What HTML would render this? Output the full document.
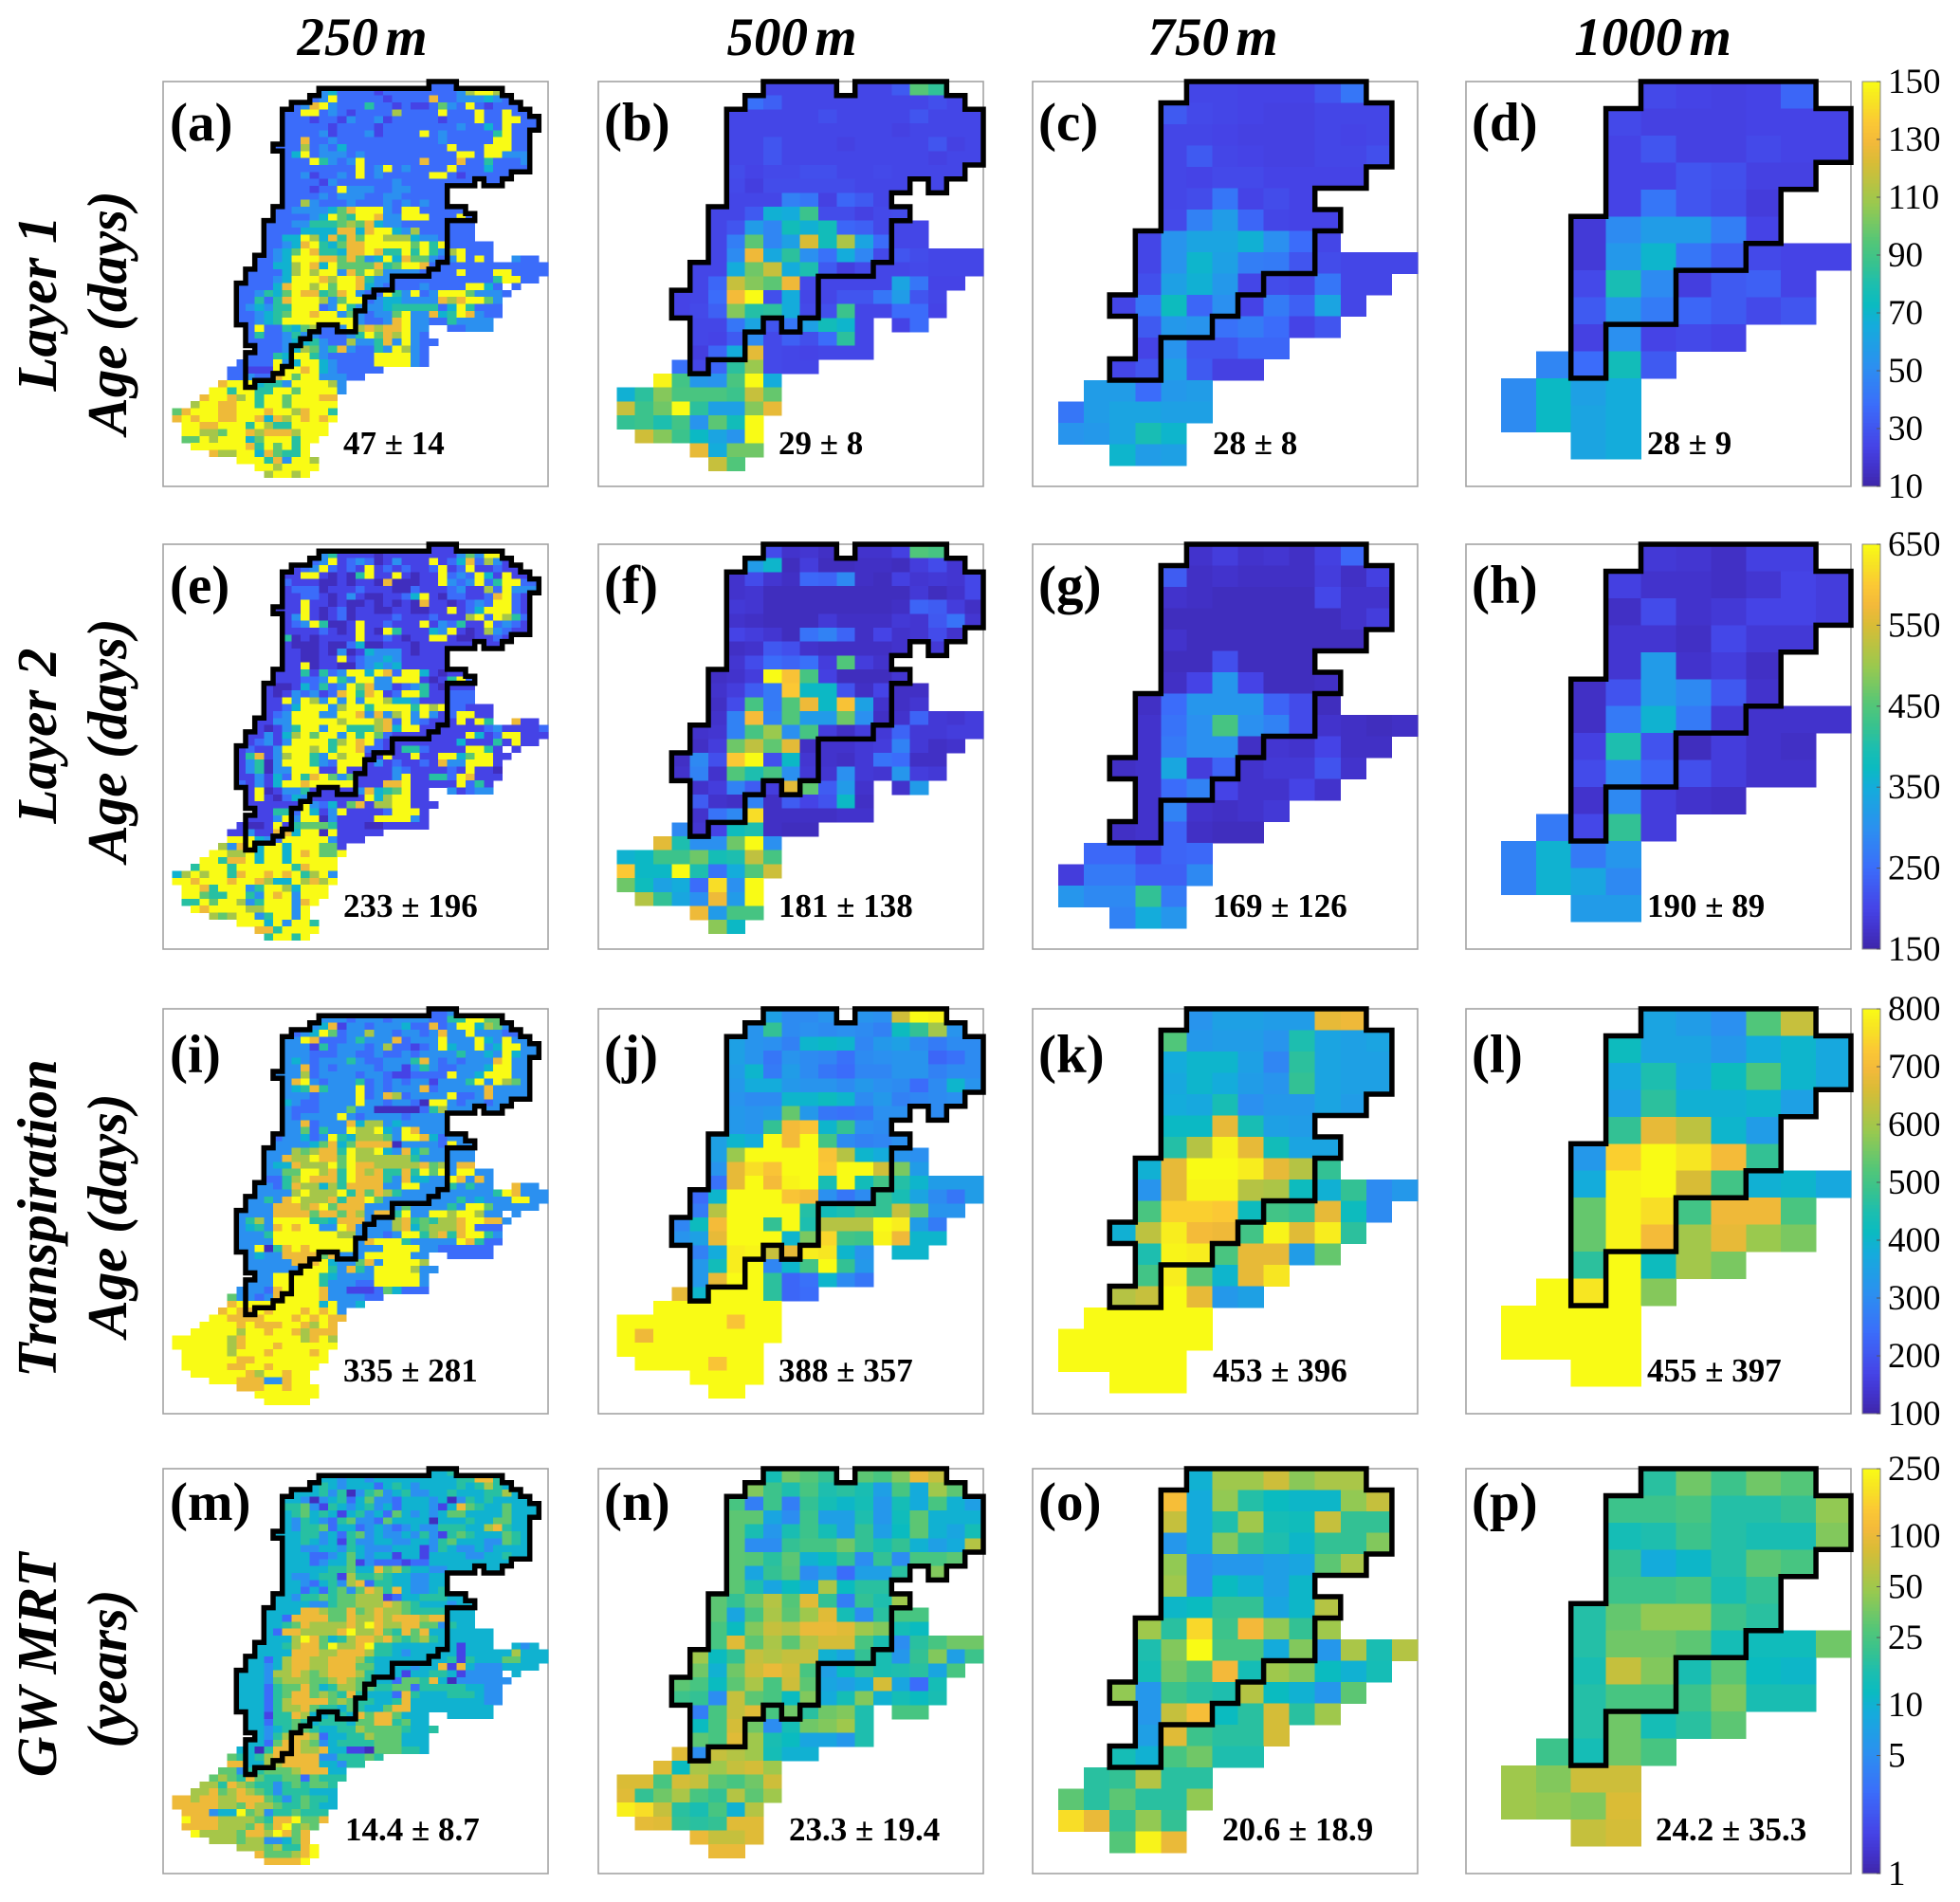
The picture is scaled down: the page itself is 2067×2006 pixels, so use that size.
<!DOCTYPE html>
<html lang="en">
<head>
<meta charset="utf-8">
<title>Age maps by resolution</title>
<style>
html,body{margin:0;padding:0;background:#fff;width:2067px;height:2006px;overflow:hidden}
svg{display:block}
text{font-family:"Liberation Serif",serif;fill:#000}
.title{font-size:57px;font-weight:bold;font-style:italic;text-anchor:middle;word-spacing:-7px}
.side{font-size:59px;font-weight:bold;font-style:italic;text-anchor:middle}
.plabel{font-size:57px;font-weight:bold}
.vlabel{font-size:35px;font-weight:bold}
.cbt{font-size:37px}
</style>
</head>
<body>
<svg id="fig" xmlns="http://www.w3.org/2000/svg" width="2067" height="2006" viewBox="0 0 2067 2006">
<rect x="0" y="0" width="2067" height="2006" fill="#fff"/>
<g id="maps"></g>
<g id="bars"></g>
<text class="title" x="382" y="58">250 m</text>
<text class="title" x="835" y="58">500 m</text>
<text class="title" x="1279" y="58">750 m</text>
<text class="title" x="1743" y="58">1000 m</text>
<text class="side" transform="translate(59,320) rotate(-90)">Layer 1</text>
<text class="side" transform="translate(133,330) rotate(-90)">Age (days)</text>
<text class="side" transform="translate(59,776) rotate(-90)">Layer 2</text>
<text class="side" transform="translate(133,781) rotate(-90)">Age (days)</text>
<text class="side" transform="translate(59,1285) rotate(-90)">Transpiration</text>
<text class="side" transform="translate(133,1282) rotate(-90)">Age (days)</text>
<text class="side" transform="translate(59,1756) rotate(-90)">GW MRT</text>
<text class="side" transform="translate(133,1760) rotate(-90)">(years)</text>
<g id="labels">
<text class="plabel" x="179" y="148">(a)</text>
<text class="plabel" x="637" y="148">(b)</text>
<text class="plabel" x="1095" y="148">(c)</text>
<text class="plabel" x="1552" y="148">(d)</text>
<text class="plabel" x="179" y="636">(e)</text>
<text class="plabel" x="637" y="636">(f)</text>
<text class="plabel" x="1095" y="636">(g)</text>
<text class="plabel" x="1552" y="636">(h)</text>
<text class="plabel" x="179" y="1131">(i)</text>
<text class="plabel" x="637" y="1131">(j)</text>
<text class="plabel" x="1095" y="1131">(k)</text>
<text class="plabel" x="1552" y="1131">(l)</text>
<text class="plabel" x="179" y="1603">(m)</text>
<text class="plabel" x="637" y="1603">(n)</text>
<text class="plabel" x="1095" y="1603">(o)</text>
<text class="plabel" x="1552" y="1603">(p)</text>
</g>
<g id="stats">
<text class="vlabel" x="362" y="479">47 ± 14</text>
<text class="vlabel" x="821" y="479">29 ± 8</text>
<text class="vlabel" x="1279" y="479">28 ± 8</text>
<text class="vlabel" x="1737" y="479">28 ± 9</text>
<text class="vlabel" x="362" y="967">233 ± 196</text>
<text class="vlabel" x="821" y="967">181 ± 138</text>
<text class="vlabel" x="1279" y="967">169 ± 126</text>
<text class="vlabel" x="1737" y="967">190 ± 89</text>
<text class="vlabel" x="362" y="1457">335 ± 281</text>
<text class="vlabel" x="821" y="1457">388 ± 357</text>
<text class="vlabel" x="1279" y="1457">453 ± 396</text>
<text class="vlabel" x="1737" y="1457">455 ± 397</text>
<text class="vlabel" x="364" y="1941">14.4 ± 8.7</text>
<text class="vlabel" x="832" y="1941">23.3 ± 19.4</text>
<text class="vlabel" x="1289" y="1941">20.6 ± 18.9</text>
<text class="vlabel" x="1746" y="1941">24.2 ± 35.3</text>
</g>
</svg>
<script>
// Colour-bar tick labels per row
const ticksLayer1=[10,30,50,70,90,110,130,150];
const ticksLayer2=[150,250,350,450,550,650];
const ticksTransp=[100,200,300,400,500,600,700,800];
const ticksMrt=[1,5,10,25,50,100,250];

// Which grid columns hold data / lie inside the catchment, per grid row
const domain250=[[29,32],[17,37],[16,38],[14,39],[13,40],[13,41],[13,41],[13,40],[13,40],[12,40],[13,40],[13,40],[13,40],[13,38],[13,34,35,37],[13,31],[13,31],[13,31],[12,33],[12,34],[11,34],[11,34],[11,34],[11,36],[11,36],[10,36,38,41],[10,42],[9,42],[9,41],[8,37,38,39],[8,38],[8,37],[8,37],[8,37],[8,36],[9,29,31,36],[9,29],[9,30],[10,29],[9,29],[8,29],[7,24],[7,22],[6,20],[5,20],[4,19],[3,19],[1,19],[1,19],[2,18],[2,18],[2,17],[3,16],[5,16],[8,17],[10,17],[11,16]];
const catch250=[[29,32],[17,37],[16,38],[14,39],[13,40],[13,41],[13,41],[13,40],[13,40],[12,40],[13,40],[13,40],[13,40],[13,38],[13,34,35,37],[13,31],[13,31],[13,31],[12,33],[12,34],[11,31],[11,31],[11,31],[11,31],[11,31],[10,31],[10,30],[9,29],[9,25],[8,25],[8,23],[8,22],[8,22],[8,21],[8,21],[9,17,19,21],[9,16],[9,15],[10,14],[9,14],[9,14],[9,13],[9,12],[9,10]];
const domain500=[[9,13,14,19],[8,20],[7,21],[7,21],[7,21],[7,21],[7,20],[7,17,18,19],[7,16],[6,17],[6,18],[6,18],[6,21],[5,21],[5,20],[4,19],[4,19],[5,15,16,18],[5,15],[5,15],[4,12],[3,10],[1,10],[1,10],[1,9],[2,9],[5,9],[6,8]];
const catch500=[[9,13,14,19],[8,20],[7,21],[7,21],[7,21],[7,21],[7,20],[7,17,18,19],[7,16],[6,17],[6,16],[6,16],[6,16],[5,15],[5,12],[4,12],[4,12],[5,9,10,11],[5,8],[5,8],[5,6]];
const domain750=[[6,13],[5,14],[5,14],[5,14],[5,13],[5,11],[5,12],[4,12],[4,15],[4,14],[3,13],[4,12],[4,10],[3,9],[2,7],[1,7],[1,6],[3,6]];
const catch750=[[6,13],[5,14],[5,14],[5,14],[5,13],[5,11],[5,12],[4,11],[4,11],[4,9],[3,8],[4,7],[4,5],[3,5]];
const domain1000=[[5,10],[4,11],[4,11],[4,10],[4,9],[3,9],[3,11],[3,10],[3,10],[3,8],[2,6],[1,5],[1,5],[3,5]];
const catch1000=[[5,10],[4,11],[4,11],[4,10],[4,9],[3,9],[3,8],[3,6],[3,6],[3,4],[3,4]];

// 250 m panels: one character per cell, 0-9 = estimated level on the row's colour scale
const panelA=["222","34222212222222237997","2392222212222822333432","2389322252212112632921222","229923212222722229222922922","2221221322312222212229229922","2222212222122222222322429222","222231222312222923222225922","228223222222222223222229922","2227232422222222222922299922","24923332322222222229929933","222953239222222822282252223","222222229239232222922242222","2231223292322222992122222","22221322222232222222222","222122933322332222","222232333223322222","227322232223232322","223333468999329922222","22223496599833999222922","22233555676843322222222","22224444884899437222222","22449748586997774332222","2234895468899999695922222","2346985548898559595379222","22349998868634948663239292322","22447984966668569982222222222222","22224797993869733332222922299222","22234999879985332222222222259922","222248997969984322223222299422","223546988568932295392399963332","22525899973699234433338789963","2343559992395333455555249522","22345699899363233693384598322","22345999999993223893322533333","2922546722397878893322333","25223533222359687932","222234453227335839322","2223476358322539732","22254995322222999932","222293499432222999932","22111999894322222","223228969933322","89994553999973","995995599699993","899879599699988","7998899599699999","689998899989978995","898998899848798989","9988999597559999","9977699878887999","669799946999599","9999998596959","87799486559","999583997","9979999","79979"];
const panelE=["111","35111101111111136399","2391232013111912482731","1239212191212112912911211","119910105911910119232941911","2111001011080001193239259922","1222011121110021112311729333","112210131001124910221128921","119110100101010811012329921","1119101201100110011912499921","139101201111211121117929752","123950019112111913251192321","111121019109511143910173211","5010111191121011991001121","10001002400111011111111","110010301433310111","110011912334311111","119011002343411111","111515239949829941011","1112239539933999101592","10014252396833123510111","10132312895891299511222","11939739393997443111222","1124999379959999597922111","1239993399838379393129911","11339999979997829321119195811","10135993995557849911111112311112","113147969939596211111111941299111","12313999957989211111111411151911","121139997959982211552111199511","158137995397991191191199469911","13503999532999131211218339991","13503399911911111321111219110","11314295896361111391155298111","2131499899999111889111119251","1901335111113845691131233","19102431111119479911","111111932416817799111","1155294139111129991","11139399031111999931","100191566651110011111","11311884990911111","999432999993111","73894994999661","997794994989669","995889499499999","5999599999958999","479799589989895793","998999899874497879","9985999359974999","9965599539893999","559699735999389","9899997799939","76799359939","999493995","8859999","59959"];
const panelI=["223","33323332333322559966","3481332333422823994763","2349623373323323833933322","339822235333823339333943933","3331523332372212394339349933","3332223322322323333533439433","343233353223335832323338933","338232333323313532233349933","3337233332332112222933499933","389323335232323313335939763","345853339232333823333383333","333233339238723333922383333","4322333393323320993233233","32223336330000025733333","323333932333323333","338233384773433333","336253397794398333","2334239547776399842333","3333468468888033332933","33376788597794384633333","33877988697777775333333","34487779698877777867388","3366997859878558596939933","2257988859888538443398383","33258774758888339933353533833","33337977795868753333333333598333","335389777858896333333335343339933","33388878968883333633335399633333","333388886886873885933997997333","357399995548883337856577899883","34538989933983333784677789222","33359999999773332399578589953","33339999999993899953333398522","3390589899999333999933222222","3433888868333999993322222","33333888943368399997","333333999538539999733","3399999543333999993","33399999533322999993","333289999833111264222","63323899998333322","899999999949334","89889899989893","998888999898988","999989888998798","9999979989987888","999999789999997897","999999789998999999","9999979998999989","9999998899999999","999998899899999","9999998799899","99988833899","888998999","9999999","99999"];
const panelM=["445","44344344444444455885","4543444245434444545754","4445350356345334454445574","443034524633244434035454444","5563154345342444314865446444","4564541453426434346644446444","435432563326444404445446644","435562442343234335554478544","4445534256343343531565444654","445434153344334435644433654","443344354333444135433434444","444223464344144144443344544","4442344613222122444444444","44444556448675443344444","433455175565443344","443245378255443344","442425636875843345444","443556566777124455544","4444335667778765444344","44448876686787765555444","44288886687787888788444","44568777787987788663544","4288777789778658684444444","4447986457887865675444444","44457886977895544444441444434","44448887788875543444441444447444","442478877888754444444451544466444","44347887788866444434481843334444","444377876788875444144554133334","444367776678765442665840333333","44425668645776655662555554433","44425688676585444285444555433","44425788886765544584444444433","4442577865546544688444444444","4415587445548688644444444","44255654555466885644","443456654455766665445","4357887244557666444","44268876345555666444","440588877844110666554","65457888883355565","884477888844355","66355666788844","676586556626555","775876553565665","7786787653555444","887887788865356554","888887768776556544","8883449673556555","9888777765889668","888877768689676","9777768879868","77767733468","777675589","8666789","88889"];

// 500 m panels: estimated values
const panelB=[[25,25,25,25,25,25,32,95,85],[40,34,25,25,25,25,25,25,25,25,28,25],[25,25,25,25,25,28,25,25,25,25,30,25,25,25],[25,25,25,25,25,25,25,25,25,23,25,25,25,25],[25,25,30,25,25,25,23,25,25,25,25,30,23,25],[25,25,30,25,25,25,25,25,25,25,25,23,25,25],[27,24,26,26,28,28,25,25,26,25,25,25,25],[26,22,27,27,27,27,27,25,25,25,25],[25,25,25,46,42,23,36,32,25],[25,25,32,68,66,88,27,27,23,26,27],[25,30,58,48,76,68,76,36,34,26,25,25],[25,45,96,48,60,122,76,112,62,38,25,25],[25,50,128,64,84,52,40,66,48,26,30,27,25,25,25],[25,25,66,100,118,66,80,32,22,26,25,25,26,25,25,25],[25,36,118,104,96,128,26,25,25,25,25,62,42,24,24],[24,25,38,130,150,28,66,25,25,30,30,42,58,30,25],[24,26,34,104,82,84,66,26,28,88,25,25,38,38,24],[25,25,42,62,30,42,60,76,70,25,24,38],[25,24,32,50,26,34,28,38,84,25],[22,36,66,125,26,25,24,25,25,25],[40,25,36,84,108,26,25,25],[148,90,56,54,92,150,66],[68,84,104,92,92,92,88,118,98],[118,88,100,150,84,60,60,104,126],[86,88,80,90,54,96,76,150],[120,104,88,72,62,54,150],[126,66,100,100],[118,94]];
const panelF=[[210,175,180,170,175,175,195,450,440],[320,365,165,190,165,165,170,170,165,190,210,180],[175,210,180,170,245,240,290,170,165,195,180,185,180,205],[175,180,165,165,165,165,165,165,165,165,185,165,175,205],[185,180,165,165,165,165,165,165,165,170,240,230,190,170],[175,170,165,165,165,185,170,170,170,185,180,225,260,180],[200,190,180,165,260,280,240,170,200,175,180,210,175],[170,175,225,215,175,170,170,170,170,175,185],[180,210,250,240,255,190,450,190,175],[170,175,190,650,590,440,195,165,165,165,180],[175,190,230,270,600,370,370,220,170,200,170,170],[170,210,440,270,450,570,370,590,330,175,170,180],[175,280,580,280,450,320,320,470,300,170,175,240,185,180,190],[175,180,280,440,500,300,440,190,170,190,185,240,185,185,190,190],[170,190,470,530,460,560,170,175,175,185,190,280,185,170,175],[170,290,215,600,650,215,370,180,175,170,185,260,250,170,170],[175,280,175,450,400,440,300,185,180,300,185,180,310,190,185],[175,190,280,230,190,560,460,230,320,175,175,320],[230,175,170,280,170,230,200,220,370,170],[175,260,290,620,170,170,170,170,175,175],[290,180,200,380,400,170,165,165],[560,400,300,300,470,650,300],[360,370,430,430,470,390,400,530,440],[600,370,370,650,400,260,350,450,540],[470,380,330,350,250,620,300,650],[520,420,340,300,570,320,650],[570,320,440,440],[490,370]];
const panelJ=[[350,300,300,320,320,310,650,800,790],[320,480,300,310,300,310,300,280,420,480,600,320],[350,320,310,280,400,410,400,290,330,350,300,270,300,300],[350,320,260,320,300,290,250,300,310,320,320,230,250,300],[340,400,270,340,300,260,240,290,290,320,320,280,300,300],[330,380,380,330,320,320,300,330,310,300,240,300,400,320],[320,300,300,400,400,420,400,300,330,280,290,300,310],[330,320,330,540,330,260,250,260,310,310,300],[330,320,480,700,720,400,480,310,300],[350,400,380,800,700,800,500,300,280,290,310],[350,590,800,800,800,800,720,620,400,380,320,310],[320,680,760,720,800,800,730,800,800,650,560,340],[250,680,800,700,790,800,440,800,430,500,460,400,340,340,340],[240,400,800,800,800,720,700,310,260,300,480,440,360,300,260,340],[270,620,800,800,800,800,460,430,450,490,480,640,540,320,320],[290,420,700,800,800,480,800,450,620,620,620,800,780,340,270],[320,350,680,800,800,800,400,560,750,500,490,790,690,400,400],[280,380,780,790,640,680,780,770,400,320,400,400],[330,430,780,800,290,400,500,800,480,330],[330,680,800,800,470,230,250,400,300,260],[680,400,800,800,800,470,230,240],[800,800,800,800,800,800,800],[800,800,800,800,800,800,720,800,800],[800,690,800,800,800,800,800,800,800],[800,800,800,800,800,800,800,800],[800,800,800,800,720,800,800],[800,800,800,800],[800,800]];
const panelN=[[14,35,28,20,30,25,40,100,70],[40,22,16,25,16,18,15,7,25,9,50,30],[25,4,22,4,20,14,11,14,6,14,9,25,10,7],[30,30,8,5,22,7,7,16,6,13,30,10,10,10],[30,15,6,15,22,14,7,20,7,12,30,10,8,14],[30,5,5,20,24,24,35,20,15,20,10,7,9,60],[30,28,18,30,10,12,20,5,20,5,25,25,30],[30,8,20,28,5,7,3,7,7,18,40],[30,16,8,12,9,55,12,18,18],[30,20,35,60,28,90,20,4,20,16,50],[30,8,25,55,30,50,90,14,5,18,25,25],[25,12,40,70,60,100,100,90,50,40,14,12],[25,90,30,55,30,60,80,80,25,15,5,18,25,35,35],[50,12,20,70,60,70,70,10,8,20,15,6,20,40,7,22],[35,10,35,75,100,80,25,7,12,20,15,16,18,8,25],[30,25,12,30,55,25,75,30,8,7,9,80,8,3,14],[22,20,5,70,30,25,12,40,9,14,40,10,14,12,15],[4,25,70,90,25,35,18,35,40,16,25,25],[12,25,80,35,5,14,35,40,50,16],[30,25,90,50,15,12,8,8,6,16],[90,5,70,60,50,14,10,10],[90,12,55,50,70,80,50],[85,85,25,80,70,30,25,35,75],[90,20,35,55,25,20,60,30,50],[220,180,70,18,15,25,10,60],[95,90,20,18,20,90,90],[100,70,70,90],[100,100]];

// 750 m panels
const panelC=[[25,25,24,24,24,30,42],[32,26,25,24,23,23,25,25,25],[25,25,24,23,23,23,25,24,25],[25,32,25,24,23,23,25,25,28],[25,24,26,26,24,24,24,24],[25,27,42,24,27,24],[26,46,58,36,25,24,24],[25,54,62,62,68,52,38,25],[25,54,70,60,45,44,30,27,25,25,25],[28,60,68,56,25,27,25,42,25,25],[25,42,74,36,52,24,44,34,62,25],[32,56,54,40,44,38,24,30],[24,54,30,30,36,36],[25,30,60,32,23,23],[58,58,38,56,58],[42,58,62,62,60,60],[54,56,62,78,70],[70,58,60]];
const panelG=[[175,190,175,180,170,195,245],[230,170,175,170,170,170,190,170,195],[175,170,165,165,165,165,205,175,175],[165,165,165,165,165,165,165,175,190],[175,165,165,165,165,165,165,165],[165,165,215,165,165,165],[170,200,310,200,165,165,170],[170,250,310,310,310,240,210,165],[175,260,300,440,300,280,210,175,170,165,170],[175,270,300,300,170,180,175,200,170,170],[170,175,340,190,240,175,185,185,220,175],[175,250,280,200,175,175,200,175],[175,280,175,170,175,185],[170,175,240,170,165,165],[245,245,205,240,245],[190,270,270,235,235,290],[310,290,290,420,270],[280,350,310]];
const panelK=[[320,350,350,340,340,680,690],[520,330,340,340,320,450,360,350,360],[380,400,400,350,290,470,360,350,350],[370,400,380,340,320,480,360,350,350],[380,370,440,310,330,330,360,340],[410,410,680,440,350,340],[460,620,790,680,430,360,360],[390,680,800,800,780,680,620,480],[320,680,790,790,620,610,420,390,480,300,330],[510,740,740,730,420,500,480,680,420,300],[390,630,780,700,690,500,790,670,780,470],[450,790,780,510,680,680,340,540],[500,780,530,400,680,770],[620,640,800,680,330,350],[800,800,800,800,800],[800,800,800,800,800,800],[800,800,800,800,800],[800,800,800]];
const panelO=[[10,50,50,75,42,55,55],[120,9,45,17,12,11,11,45,70],[70,9,16,50,14,13,70,20,20],[6,9,40,20,16,11,20,20,40],[45,5,6,6,7,8,30,55],[50,5,12,10,7,11],[11,12,20,20,8,11,60],[50,18,170,22,110,45,20,50],[16,40,250,25,25,9,40,6,55,15,60],[14,35,25,110,14,50,40,12,10,14],[45,6,22,18,16,60,12,10,6,30],[6,70,120,12,18,80,18,50],[7,90,22,18,18,80],[14,10,25,35,16,16],[18,20,60,18,18],[30,18,30,18,18,45],[180,100,20,45,20],[28,230,100]];

// 1000 m panels
const panelD=[[26,24,23,24,36],[26,23,23,23,24,24,24],[24,30,23,23,26,24,24],[24,24,30,28,23,23],[24,42,30,27,21],[20,50,58,58,45,24],[20,56,70,42,33,26,24,24],[26,78,50,22,32,34,24],[32,56,44,36,32,26,30],[23,52,24,26,24],[48,38,76,32],[50,72,60,66],[50,72,62,66],[62,66]];
const panelH=[[185,180,170,195,195],[195,175,175,170,180,200,190],[170,210,175,185,200,200,190],[180,180,170,205,185,185],[180,320,175,190,170],[170,220,320,290,225,175],[170,270,360,270,185,175,175,175],[195,400,220,165,190,175,170],[210,290,240,215,190,175,175],[175,290,190,175,170],[270,205,420,190],[280,360,270,310],[280,360,340,290],[320,320]];
const panelL=[[360,340,310,520,640],[420,360,360,330,380,400,370],[370,450,370,420,510,400,370],[350,470,390,390,400,350],[480,680,630,400,340],[330,740,800,770,700,480],[380,790,800,660,500,390,400,370],[540,790,760,500,690,690,510],[540,790,700,600,680,590,560],[470,800,420,600,560],[800,770,800,570],[800,800,800,800],[800,800,800,800],[800,800]];
const panelP=[[18,35,22,35,28],[22,22,25,17,17,20,45],[14,16,22,17,15,15,40],[20,9,11,17,30,25],[22,22,25,15,20],[17,32,45,45,22,18],[17,35,35,30,14,13,13,35],[15,70,40,15,30,12,11],[17,25,25,22,38,15,15],[17,35,14,18,30],[22,14,35,25],[50,40,75,75],[50,45,40,85],[70,80]];

const NS='http://www.w3.org/2000/svg';
const parulaStops=[[0,'#3e26a8'],[.05,'#4233cc'],[.1,'#4543e6'],[.2,'#3b6cfa'],[.3,'#2b90f0'],[.4,'#14acdb'],[.45,'#0abbc0'],[.5,'#1dbeaf'],[.55,'#37c28f'],[.6,'#50c67a'],[.7,'#9ac94e'],[.8,'#d8bc36'],[.85,'#f3b93a'],[.9,'#fbc834'],[.95,'#f7e224'],[1,'#f9fb15']];
const levelFractions=[0.03,0.1,0.2,0.3,0.42,0.52,0.62,0.72,0.84,1];
function hex(s){return [parseInt(s.slice(1,3),16),parseInt(s.slice(3,5),16),parseInt(s.slice(5,7),16)];}
function colorAt(f){
  f=Math.max(0,Math.min(1,f));
  for(let i=1;i<parulaStops.length;i++){
    if(f<=parulaStops[i][0]){
      const a=parulaStops[i-1],b=parulaStops[i],t=(f-a[0])/(b[0]-a[0]),ca=hex(a[1]),cb=hex(b[1]);
      return 'rgb('+ca.map((v,k)=>Math.round(v+(cb[k]-v)*t)).join(',')+')';
    }
  }
  return parulaStops[parulaStops.length-1][1];
}
const rowScales=[
 {lo:10,hi:150,log:false,ticks:ticksLayer1},
 {lo:150,hi:650,log:false,ticks:ticksLayer2},
 {lo:100,hi:800,log:false,ticks:ticksTransp},
 {lo:1,hi:250,log:true,ticks:ticksMrt}
];
function scaleFrac(s,v){return s.log?Math.log(v/s.lo)/Math.log(s.hi/s.lo):(v-s.lo)/(s.hi-s.lo);}
function levelValue(s,d){const f=levelFractions[d];return s.log?s.lo*Math.pow(s.hi/s.lo,f):s.lo+f*(s.hi-s.lo);}

const rowTop=[86,574,1064,1549];
const colLeft=[172,631,1089,1546];
const PW=406,PH=427;
const grids=[
 {domain:domain250,mask:catch250,nx:42,dy:7.33},
 {domain:domain500,mask:catch500,nx:21,dy:14.67},
 {domain:domain750,mask:catch750,nx:15,dy:22.5},
 {domain:domain1000,mask:catch1000,nx:11,dy:28.45}
];
const panelRows=[[panelA,panelB,panelC,panelD],[panelE,panelF,panelG,panelH],[panelI,panelJ,panelK,panelL],[panelM,panelN,panelO,panelP]];
const panelIds='abcdefghijklmnop';
function spanCols(sp){const o=[];for(let i=0;i<sp.length;i+=2)for(let c=sp[i];c<sp[i+1];c++)o.push(c);return o;}

const maps=document.getElementById('maps');
panelRows.forEach((rowPanels,ri)=>{
  const sc=rowScales[ri];
  rowPanels.forEach((data,ci)=>{
    const g=grids[ci],x0=colLeft[ci],y0=rowTop[ri],dx=PW/g.nx,dy=g.dy;
    const xAt=c=>x0+c*dx, yAt=r=>y0+r*dy;
    const grp=document.createElementNS(NS,'g');
    
    
    const frame=document.createElementNS(NS,'rect');
    frame.setAttribute('x',x0);frame.setAttribute('y',y0);frame.setAttribute('width',PW);frame.setAttribute('height',PH);
    frame.setAttribute('fill','#fff');frame.setAttribute('stroke','#a3a3a3');frame.setAttribute('stroke-width','1.6');
    
    
    grp.appendChild(frame);
    g.domain.forEach((sp,r)=>{
      const cols=spanCols(sp),src=data[r]||[];
      const vals=typeof src==='string'?Array.from(src).map(ch=>levelValue(sc,+ch)):src;
      cols.forEach((c,i)=>{
        const v=i<vals.length?vals[i]:vals[vals.length-1];
        if(v===undefined)return;
        const el=document.createElementNS(NS,'rect');
        el.setAttribute('x',xAt(c).toFixed(2));
        el.setAttribute('y',yAt(r).toFixed(2));
        el.setAttribute('width',(dx+.3).toFixed(2));
        el.setAttribute('height',(dy+.3).toFixed(2));
        el.setAttribute('fill',colorAt(scaleFrac(sc,v)));
        el.setAttribute('shape-rendering','crispEdges');
        
        
        grp.appendChild(el);
      });
    });
    const inside=new Set();
    g.mask.forEach((sp,r)=>spanCols(sp).forEach(c=>inside.add(r+','+c)));
    let d='';
    const seg=(a,b,p,q)=>{d+='M'+a.toFixed(1)+' '+b.toFixed(1)+'L'+p.toFixed(1)+' '+q.toFixed(1);};
    g.mask.forEach((sp,r)=>spanCols(sp).forEach(c=>{
      const L=xAt(c),R=xAt(c+1),T=yAt(r),B=yAt(r+1);
      if(!inside.has((r-1)+','+c))seg(L,T,R,T);
      if(!inside.has((r+1)+','+c))seg(L,B,R,B);
      if(!inside.has(r+','+(c-1)))seg(L,T,L,B);
      if(!inside.has(r+','+(c+1)))seg(R,T,R,B);
    }));
    const outline=document.createElementNS(NS,'path');
    outline.setAttribute('d',d);
    outline.setAttribute('fill','none');
    outline.setAttribute('stroke','#000');
    outline.setAttribute('stroke-width','5.5');
    outline.setAttribute('stroke-linecap','square');
    
    
    grp.appendChild(outline);
    maps.appendChild(grp);
  });
});

const bars=document.getElementById('bars');
const CBX=1964,CBW=19;
rowScales.forEach((sc,ri)=>{
  const top=rowTop[ri],grp=document.createElementNS(NS,'g');
  
  
  const N=120;
  for(let i=0;i<N;i++){
    const r=document.createElementNS(NS,'rect');
    r.setAttribute('x',CBX);
    r.setAttribute('y',(top+PH*(1-(i+1)/N)).toFixed(2));
    r.setAttribute('width',CBW);
    r.setAttribute('height',(PH/N+.5).toFixed(2));
    r.setAttribute('fill',colorAt((i+.5)/N));
    r.setAttribute('shape-rendering','crispEdges');
    
    
    grp.appendChild(r);
  }
  const box=document.createElementNS(NS,'rect');
  box.setAttribute('x',CBX);box.setAttribute('y',top);box.setAttribute('width',CBW);box.setAttribute('height',PH);
  box.setAttribute('fill','none');box.setAttribute('stroke','#8a8a8a');box.setAttribute('stroke-width','1');
  
  
  grp.appendChild(box);
  sc.ticks.forEach(v=>{
    const y=top+PH*(1-scaleFrac(sc,v));
    const t=document.createElementNS(NS,'line');
    t.setAttribute('x1',CBX+CBW-4);t.setAttribute('x2',CBX+CBW);t.setAttribute('y1',y);t.setAttribute('y2',y);
    t.setAttribute('stroke','#555');t.setAttribute('stroke-width','1');
    
    
    grp.appendChild(t);
    const l=document.createElementNS(NS,'text');
    l.setAttribute('class','cbt');
    l.setAttribute('x',1991);
    l.setAttribute('y',(y+12).toFixed(1));
    l.textContent=String(v);
    
    
    grp.appendChild(l);
  });
  bars.appendChild(grp);
});
</script>
</body>
</html>
